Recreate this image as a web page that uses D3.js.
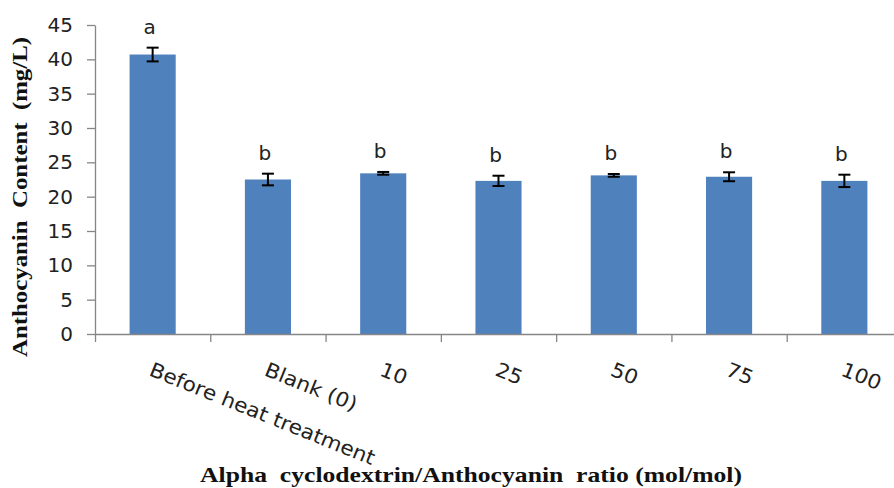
<!DOCTYPE html>
<html lang="en">
<head>
    <meta charset="UTF-8">
    <title>Anthocyanin content</title>
    <script src="https://d3js.org/d3.v7.min.js"></script>
    <style>
    body { margin: 0; background: #fff; }
    .axis path, .axis line { stroke: #868686; stroke-width: 1.3px; }
    .axis text { font: 20px "DejaVu Sans", sans-serif; fill: #222; }
    .bar { fill: #4f81bd; }
    .err { stroke: #000; stroke-width: 2px; }
    .letter { font: 20px "DejaVu Sans", sans-serif; fill: #222; }
    .cat { font: 20px "DejaVu Sans", sans-serif; fill: #222; }
    .title { font-family: "Liberation Serif", "Times New Roman", serif; font-weight: bold; fill: #111; }
  </style>
</head>
<body>
<div id="chart"></div>
<script>
    // values
    const categories = ["Before heat treatment", "Blank (0)", "10", "25", "50", "75", "100"];
    const values = [40.7, 22.5, 23.4, 22.3, 23.1, 22.9, 22.3];
    const errors = [1.0, 0.85, 0.2, 0.75, 0.2, 0.65, 0.9];
    const letters = ["a", "b", "b", "b", "b", "b", "b"];
    const yTicks = [0, 5, 10, 15, 20, 25, 30, 35, 40, 45];

    const width = 894, height = 488;
    const plotLeft = 95, plotRight = 902, plotTop = 25, plotBottom = 334;

    const svg = d3.select("#chart")
                  .append("svg")
                  .attr("width", width)
                  .attr("height", height);

    const x = d3.scaleBand()
                .domain(categories)
                .range([plotLeft, plotRight])
                .paddingInner(0.6)
                .paddingOuter(0.3);

    // boundaries between categories, for the tick marks
    const xEdge = d3.scaleLinear().domain([0, categories.length]).range([plotLeft, plotRight]);

    const y = d3.scaleLinear().domain([0, 45]).range([plotBottom, plotTop]);

    // y axis
    svg.append("g")
       .attr("class", "axis")
       .attr("transform", `translate(${plotLeft},0)`)
       .call(d3.axisLeft(y).tickValues(yTicks).tickSize(8).tickSizeOuter(0).tickPadding(14));

    // bars
    svg.selectAll("rect.bar")
       .data(values)
       .enter()
       .append("rect")
       .attr("class", "bar")
       .attr("x", (d, i) => x(categories[i]))
       .attr("width", x.bandwidth())
       .attr("y", d => y(d))
       .attr("height", d => y(0) - y(d));

    // x axis (drawn after bars so the line sits on top)
    svg.append("g")
       .attr("class", "axis")
       .attr("transform", `translate(0,${plotBottom})`)
       .call(d3.axisBottom(xEdge).tickValues(d3.range(categories.length + 1)).tickSize(8).tickSizeOuter(0).tickFormat(""));

    // error bars
    const eb = svg.selectAll("g.eb")
                  .data(values)
                  .enter()
                  .append("g")
                  .attr("class", "eb")
                  .attr("transform", (d, i) => `translate(${x(categories[i]) + x.bandwidth() / 2},0)`);

    eb.append("line").attr("class", "err")
      .attr("y1", (d, i) => y(d + errors[i])).attr("y2", (d, i) => y(d - errors[i]));
    eb.append("line").attr("class", "err")
      .attr("x1", -6).attr("x2", 6)
      .attr("y1", (d, i) => y(d + errors[i])).attr("y2", (d, i) => y(d + errors[i]));
    eb.append("line").attr("class", "err")
      .attr("x1", -6).attr("x2", 6)
      .attr("y1", (d, i) => y(d - errors[i])).attr("y2", (d, i) => y(d - errors[i]));

    // significance letters
    eb.append("text")
      .attr("class", "letter")
      .attr("text-anchor", "middle")
      .attr("x", -3)
      .attr("y", (d, i) => y(d + errors[i]) - 14)
      .text((d, i) => letters[i]);

    // rotated category labels
    svg.selectAll("text.cat")
       .data(categories)
       .enter()
       .append("text")
       .attr("class", "cat")
       .attr("transform", d => `translate(${x(d) + x.bandwidth() / 2 + 1},${plotBottom + 27}) rotate(22) scale(1.08,1)`)
       .attr("dy", "0.75em")
       .text(d => d);

    // axis titles
    svg.append("text")
       .attr("class", "title")
       .attr("transform", `translate(27,197) rotate(-90)`)
       .attr("text-anchor", "middle")
       .attr("font-size", 21)
       .attr("textLength", 320)
       .attr("lengthAdjust", "spacingAndGlyphs")
       .style("white-space", "pre")
       .text("Anthocyanin  Content  (mg/L)");

    svg.append("text")
       .attr("class", "title")
       .attr("x", 471)
       .attr("y", 482)
       .attr("text-anchor", "middle")
       .attr("font-size", 22)
       .attr("textLength", 542)
       .attr("lengthAdjust", "spacingAndGlyphs")
       .style("white-space", "pre")
       .text("Alpha  cyclodextrin/Anthocyanin  ratio (mol/mol)");
</script>
</body>
</html>
